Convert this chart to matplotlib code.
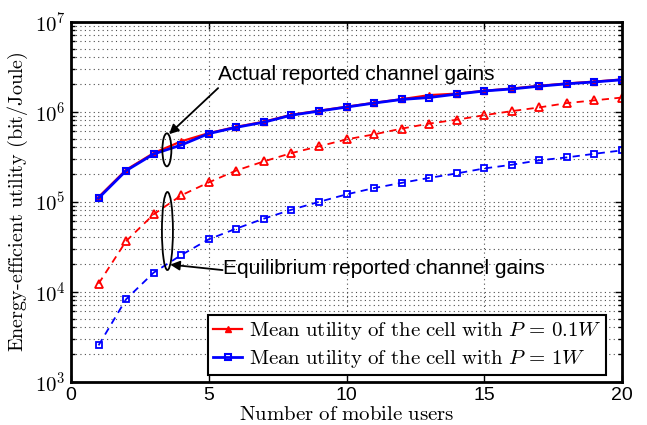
import numpy as np
import matplotlib
matplotlib.use("Agg")
import matplotlib.pyplot as plt
from matplotlib.patches import Ellipse
from matplotlib.ticker import FixedLocator, FixedFormatter, LogLocator, NullFormatter

plt.rcParams['mathtext.fontset'] = 'cm'

users = list(range(1, 21))
actual_p01 = [1.12e5, 2.25e5, 3.45e5, 4.66e5, 5.75e5, 6.75e5, 7.7e5, 9.2e5, 1.02e6, 1.13e6,
              1.25e6, 1.37e6, 1.52e6, 1.58e6, 1.70e6, 1.80e6, 1.93e6, 2.05e6, 2.15e6, 2.27e6]
actual_p1 = [1.09e5, 2.2e5, 3.37e5, 4.24e5, 5.68e5, 6.67e5, 7.6e5, 9.1e5, 1.01e6, 1.12e6,
             1.24e6, 1.36e6, 1.43e6, 1.56e6, 1.69e6, 1.78e6, 1.91e6, 2.03e6, 2.13e6, 2.25e6]
equil_p01 = [1.22e4, 3.63e4, 7.2e4, 1.17e5, 1.63e5, 2.21e5, 2.79e5, 3.45e5, 4.1e5, 4.9e5,
             5.57e5, 6.45e5, 7.34e5, 8.1e5, 9.1e5, 1.01e6, 1.11e6, 1.24e6, 1.33e6, 1.43e6]
equil_p1 = [2.52e3, 8.2e3, 1.62e4, 2.54e4, 3.8e4, 5.0e4, 6.45e4, 8.1e4, 9.9e4, 1.2e5,
            1.41e5, 1.61e5, 1.83e5, 2.05e5, 2.33e5, 2.56e5, 2.87e5, 3.09e5, 3.39e5, 3.7e5]

xticks = [0, 5, 10, 15, 20]
yticks = [1e3, 1e4, 1e5, 1e6, 1e7]
ytick_labels = [r'$\mathsf{10^{3}}$', r'$\mathsf{10^{4}}$', r'$\mathsf{10^{5}}$',
                r'$\mathsf{10^{6}}$', r'$\mathsf{10^{7}}$']
legend_labels = [r'$\mathrm{Mean\ utility\ of\ the\ cell\ with\ }P\,=\,0.1W$',
                 r'$\mathrm{Mean\ utility\ of\ the\ cell\ with\ }P\,=\,1W$']

fig = plt.figure(figsize=(6.47, 4.25), dpi=100)
ax = fig.add_axes([71/647, 1-381.5/425, (622-71)/647, (381.5-21.5)/425])

l1, = ax.plot(users, actual_p01, color='red', lw=1.6, marker='^', ms=5,
              markerfacecolor='red', markeredgecolor='red')
ax.plot(users, equil_p01, color='red', lw=1.3, ls='--', dashes=(4, 3), marker='^', ms=6,
        markerfacecolor='none', markeredgecolor='red', markeredgewidth=1.3)
l2, = ax.plot(users, actual_p1, color='blue', lw=2.0, marker='s', ms=5,
              markerfacecolor='none', markeredgecolor='blue', markeredgewidth=1.5)
ax.plot(users, equil_p1, color='blue', lw=1.3, ls='--', dashes=(4, 3), marker='s', ms=4.5,
        markerfacecolor='none', markeredgecolor='blue', markeredgewidth=1.3)

ax.set_yscale('log')
ax.set_xlim(0, 20)
ax.set_ylim(1e3, 1e7)
ax.xaxis.set_major_locator(FixedLocator(xticks))
ax.set_xticklabels([str(v) for v in xticks], family='Liberation Sans', fontsize=14)
ax.yaxis.set_major_locator(FixedLocator(yticks))
ax.yaxis.set_major_formatter(FixedFormatter(ytick_labels))
ax.yaxis.set_minor_locator(LogLocator(base=10, subs=np.arange(2, 10)))
ax.yaxis.set_minor_formatter(NullFormatter())
for lab in ax.get_yticklabels():
    lab.set_fontsize(15)

ax.tick_params(which='both', direction='in', top=True, right=True, width=1.0)
ax.tick_params(which='major', length=5, pad=4)
ax.tick_params(which='minor', length=3)
ax.grid(True, which='major', axis='both', ls=(0, (1, 3)), color='0.3', lw=0.8)
ax.grid(True, which='minor', axis='y', ls=(0, (1, 3)), color='0.3', lw=0.8)
for s in ax.spines.values():
    s.set_linewidth(2.0)

ax.set_xlabel(r'$\mathrm{Number\ of\ mobile\ users}$', fontsize=15, labelpad=0)
ax.set_ylabel(r'$\mathrm{Energy\text{-}efficient\ utility\ (bit/Joule)}$', fontsize=14.5, labelpad=3)

# ellipses drawn in pixel units centred on data points
fig.canvas.draw()
for xc, yc_val, w_px, h_px in [(3.48, 3.75e5, 9, 33), (3.5, 4.7e4, 11, 78)]:
    cx, cy = ax.transData.transform((xc, yc_val))
    fig.add_artist(Ellipse((cx, cy), width=w_px, height=h_px, fill=False, ec='black',
                           lw=1.3, transform=None))

ax.text(5.34, 2.55e6, 'Actual reported channel gains', fontsize=15,
        family='Liberation Sans', va='center', ha='left')
ax.annotate('', xy=(3.56, 5.6e5), xytext=(5.34, 1.82e6),
            arrowprops=dict(arrowstyle='-|>', color='black', lw=1.3, shrinkA=0, shrinkB=0,
                            mutation_scale=14))
ax.text(5.52, 1.82e4, 'Equilibrium reported channel gains', fontsize=15,
        family='Liberation Sans', va='center', ha='left')
ax.annotate('', xy=(3.6, 1.99e4), xytext=(5.5, 1.73e4),
            arrowprops=dict(arrowstyle='-|>', color='black', lw=1.3, shrinkA=0, shrinkB=0,
                            mutation_scale=14))

leg = ax.legend([l1, l2], legend_labels, loc='lower right', fontsize=15,
                frameon=True, fancybox=False, edgecolor='black', framealpha=1,
                borderpad=0.25, handlelength=1.4, handletextpad=0.3, labelspacing=0.3,
                borderaxespad=0.3, bbox_to_anchor=(0.983, 0.0))
leg.get_frame().set_linewidth(1.5)

fig.savefig('out.png', dpi=100)
